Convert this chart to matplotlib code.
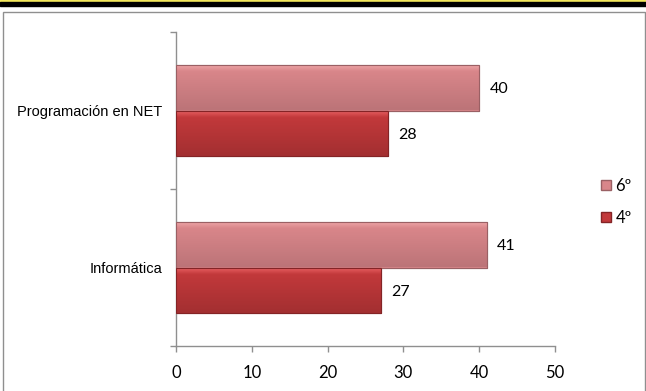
import matplotlib
matplotlib.use('Agg')
import matplotlib.pyplot as plt
import numpy as np
from matplotlib.patches import Rectangle
from matplotlib.lines import Line2D
from matplotlib.colors import to_rgb

categories = ['Informática', 'Programación en NET']
series_names = ['6º', '4º']
values_6 = [41, 40]
values_4 = [27, 28]
xticks = [0, 10, 20, 30, 40, 50]

W, H = 646, 391
fig = plt.figure(figsize=(W / 100, H / 100), dpi=100)

# top decoration band
fig.patches.append(Rectangle((0, 1 - 2 / H), 1, 2 / H, transform=fig.transFigure,
                             color='#F3E85C', zorder=0))
fig.patches.append(Rectangle((0, 1 - 6 / H), 1, 4 / H, transform=fig.transFigure,
                             color='black', zorder=0))
# chart frame
fig.patches.append(Rectangle((2.5 / W, -0.02), 642.5 / W, (H - 11.5) / H + 0.02,
                             transform=fig.transFigure, fill=False,
                             edgecolor='#8f8f8f', lw=1.0, zorder=0))

ax = fig.add_axes([176 / W, 45 / H, 379 / W, 314 / H])

bar_h = 0.29
y = np.arange(len(categories))


def grad_bar(ax, yc, val, top, mid, bot, edge):
    y0, y1 = yc - bar_h / 2, yc + bar_h / 2
    ax.barh(yc, val, height=bar_h, color=mid, edgecolor=edge, linewidth=0.8, zorder=2)
    n = 64
    t = np.linspace(0, 1, n)  # 0 = top
    c_top, c_mid, c_bot = map(np.array, map(to_rgb, (top, mid, bot)))
    cols = np.zeros((n, 1, 3))
    for i, tt in enumerate(t):
        if tt < 0.15:
            f = tt / 0.15
            c = c_top * (1 - f) + c_mid * f
        else:
            f = (tt - 0.15) / 0.85
            c = c_mid * (1 - f) + c_bot * f
        cols[i, 0] = c
    im = ax.imshow(cols, extent=(0, val, y0, y1), aspect='auto', origin='upper',
                   zorder=3, interpolation='bilinear')
    r = Rectangle((0, y0), val, bar_h, transform=ax.transData)
    im.set_clip_path(r)
    ax.add_patch(Rectangle((0, y0), val, bar_h, fill=False, edgecolor=edge,
                           linewidth=0.8, zorder=4))


for i in range(len(categories)):
    grad_bar(ax, y[i] + bar_h / 2, values_6[i], '#F0A8AA', '#D9868A', '#BC7478', '#9a6064')
    grad_bar(ax, y[i] - bar_h / 2, values_4[i], '#EC6466', '#C2393B', '#A32F31', '#842426')
    ax.text(values_6[i] + 1.35, y[i] + bar_h / 2 - 0.01, str(values_6[i]), va='center', ha='left',
            fontsize=11.5, family='Lato', color='black')
    ax.text(values_4[i] + 1.35, y[i] - bar_h / 2 - 0.01, str(values_4[i]), va='center', ha='left',
            fontsize=11.5, family='Lato', color='black')

ax.set_xlim(0, 50)
ax.set_ylim(-0.5, 1.5)
ax.set_xticks(xticks)
ax.set_xticklabels([str(v) for v in xticks], fontsize=12, family='Lato')
ax.set_yticks(y)
ax.set_yticklabels(categories, fontsize=10.5, family='Liberation Sans')
ax.set_yticks([-0.5, 0.5, 1.5], minor=True)
ax.tick_params(axis='y', which='major', length=0, pad=10)
ax.tick_params(axis='y', which='minor', length=4, color='#8f8f8f', width=1)
ax.tick_params(axis='x', length=4, color='#8f8f8f', width=1, pad=10)
for s in ('top', 'right'):
    ax.spines[s].set_visible(False)
for s in ('left', 'bottom'):
    ax.spines[s].set_color('#8f8f8f')
    ax.spines[s].set_linewidth(1)
ax.patch.set_alpha(0)

handles = [Line2D([], [], marker='s', linestyle='none', markersize=7,
                  markerfacecolor='#D9868A', markeredgecolor='#9a6064'),
           Line2D([], [], marker='s', linestyle='none', markersize=7,
                  markerfacecolor='#C2393B', markeredgecolor='#842426')]
fig.legend(handles, series_names, loc='center left',
           bbox_to_anchor=(592 / W, 1 - 202 / H), frameon=False,
           prop={'family': 'Lato', 'size': 12}, handlelength=0.7,
           handletextpad=0.2, labelspacing=0.95, borderpad=0)

fig.savefig('out.png', dpi=100)
